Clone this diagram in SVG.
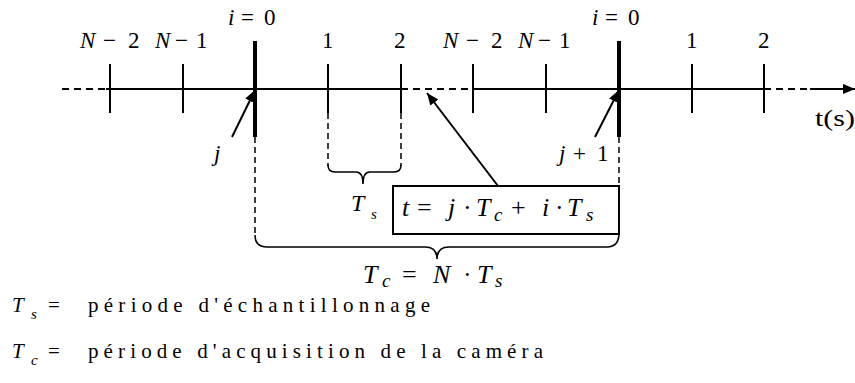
<svg xmlns="http://www.w3.org/2000/svg" width="855" height="383" viewBox="0 0 855 383" font-family="Liberation Serif, DejaVu Serif, Times New Roman, serif">
<style>
.ln{stroke:#000;stroke-width:2;fill:none}
.dash{stroke:#000;stroke-width:2;fill:none;stroke-dasharray:7,5}
.vdash{stroke:#000;stroke-width:1.5;fill:none;stroke-dasharray:6,4}
.thick{stroke:#000;stroke-width:4;fill:none}
.br{stroke:#000;stroke-width:1.6;fill:none}
</style>
<defs>
<marker id="ah" viewBox="0 0 12 10" refX="12" refY="5" markerWidth="12" markerHeight="10" markerUnits="userSpaceOnUse" orient="auto">
<path d="M0,0 L12,5 L0,10 Z" fill="#000"/>
</marker>
</defs>
<g id="connectors">
<line class="dash" x1="62" y1="89" x2="106" y2="89"/>
<line class="ln" x1="106" y1="89" x2="401" y2="89"/>
<line class="dash" x1="401" y1="89" x2="473" y2="89"/>
<line class="ln" x1="473" y1="89" x2="764" y2="89"/>
<line class="dash" x1="764" y1="89" x2="810" y2="89"/>
<line class="ln" x1="810" y1="89" x2="855" y2="89" marker-end="url(#ah)"/>
<g id="ticks">
<line class="ln" x1="110" y1="64" x2="110" y2="113"/>
<line class="ln" x1="183" y1="64" x2="183" y2="113"/>
<line class="ln" x1="328" y1="64" x2="328" y2="113"/>
<line class="ln" x1="401" y1="64" x2="401" y2="113"/>
<line class="ln" x1="473" y1="64" x2="473" y2="113"/>
<line class="ln" x1="546" y1="64" x2="546" y2="113"/>
<line class="ln" x1="692" y1="64" x2="692" y2="113"/>
<line class="ln" x1="764" y1="64" x2="764" y2="113"/>
<line class="thick" x1="255" y1="41" x2="255" y2="137"/>
<line class="thick" x1="619" y1="41" x2="619" y2="137"/>
</g>
<line class="vdash" x1="255" y1="137" x2="255" y2="236"/>
<line class="vdash" x1="619" y1="137" x2="619" y2="186"/>
<line class="vdash" x1="328" y1="113" x2="328" y2="166"/>
<line class="vdash" x1="401" y1="113" x2="401" y2="166"/>
<path class="br" d="M328,165 Q328,172 335,172 L356,172 Q363,172 363,184 Q363,172 370,172 L394,172 Q401,172 401,165"/>
<path class="br" d="M255,235 Q255,247 267,247 L425,247 Q437,247 437,259 Q437,247 449,247 L607,247 Q619,247 619,233"/>
<line class="ln" x1="232" y1="137" x2="255" y2="90" marker-end="url(#ah)"/>
<line class="ln" x1="595" y1="137" x2="619" y2="90" marker-end="url(#ah)"/>
<line class="ln" x1="498" y1="186" x2="427" y2="93" marker-end="url(#ah)"/>
</g>
<g id="labels-top" font-size="23" fill="#000">
<text x="80" y="48"><tspan font-style="italic">N</tspan><tspan x="103">−</tspan><tspan x="128">2</tspan></text>
<text x="155" y="48"><tspan font-style="italic">N</tspan><tspan x="175">−</tspan><tspan x="196">1</tspan></text>
<text x="322" y="48">1</text>
<text x="394" y="48">2</text>
<text x="228" y="25"><tspan font-style="italic">i</tspan><tspan x="241">=</tspan><tspan x="264">0</tspan></text>
<text x="443" y="48"><tspan font-style="italic">N</tspan><tspan x="466">−</tspan><tspan x="491">2</tspan></text>
<text x="518" y="48"><tspan font-style="italic">N</tspan><tspan x="538">−</tspan><tspan x="559">1</tspan></text>
<text x="686" y="48">1</text>
<text x="758" y="48">2</text>
<text x="592" y="25"><tspan font-style="italic">i</tspan><tspan x="605">=</tspan><tspan x="628">0</tspan></text>
<text x="815" y="126" textLength="40" lengthAdjust="spacingAndGlyphs">t(s)</text>
</g>
<g id="label-j" font-size="23">
<text x="214" y="161" font-style="italic">j</text>
</g>
<g id="label-j1" font-size="23">
<text x="559" y="161"><tspan font-style="italic">j</tspan><tspan x="573">+</tspan><tspan x="597">1</tspan></text>
</g>
<g id="label-Ts" font-size="24" font-style="italic">
<text x="351" y="211">T<tspan x="371" dy="8" font-size="15">s</tspan></text>
</g>
<g id="formula-box" font-size="26">
<rect x="393" y="186" width="226" height="48" fill="none" stroke="#000" stroke-width="2"/>
<text x="402" y="216"><tspan font-style="italic">t</tspan><tspan x="417">=</tspan><tspan x="448" font-style="italic">j</tspan><tspan x="463">·</tspan><tspan x="476" font-style="italic">T</tspan><tspan x="494" dy="5" font-size="19" font-style="italic">c</tspan><tspan x="511" dy="-5">+</tspan><tspan x="542" font-style="italic">i</tspan><tspan x="555">·</tspan><tspan x="567" font-style="italic">T</tspan><tspan x="586" dy="5" font-size="19" font-style="italic">s</tspan></text>
</g>
<g id="label-Tc" font-size="26">
<text x="363" y="283"><tspan font-style="italic">T</tspan><tspan x="382" dy="4" font-size="19" font-style="italic">c</tspan><tspan x="402" dy="-4">=</tspan><tspan x="433" font-style="italic">N</tspan><tspan x="463">·</tspan><tspan x="477" font-style="italic">T</tspan><tspan x="495" dy="4" font-size="19" font-style="italic">s</tspan></text>
</g>
<g id="legend" font-size="21">
<text x="12" y="312"><tspan font-style="italic">T</tspan><tspan x="31" dy="7" font-size="15" font-style="italic">s</tspan><tspan x="48" dy="-7">=</tspan></text>
<text x="88" y="312" textLength="342" lengthAdjust="spacing">période d'échantillonnage</text>
<text x="12" y="358"><tspan font-style="italic">T</tspan><tspan x="31" dy="7" font-size="15" font-style="italic">c</tspan><tspan x="48" dy="-7">=</tspan></text>
<text x="88" y="358" textLength="455" lengthAdjust="spacing">période d'acquisition de la caméra</text>
</g>
</svg>
